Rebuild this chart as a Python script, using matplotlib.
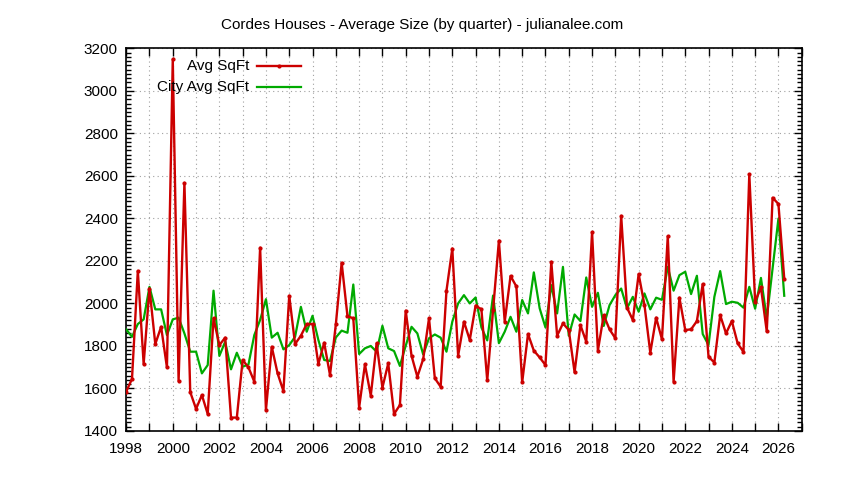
import numpy as np
import matplotlib
matplotlib.use("Agg")
import matplotlib.pyplot as plt
from matplotlib.lines import Line2D
from matplotlib.ticker import MultipleLocator, FixedLocator, FuncFormatter

plt.rcParams['font.family'] = ['Liberation Sans', 'DejaVu Sans']

title = "Cordes Houses - Average Size (by quarter) - julianalee.com"
series_names = ["Avg SqFt", "City Avg SqFt"]
start_year = 1998  # first quarter plotted at 1998.0, one point per quarter

avg_sqft = [
    1585, 1645, 2153, 1715, 2070, 1809, 1890, 1699, 3148, 1635,
    2567, 1583, 1504, 1569, 1480, 1930, 1804, 1839, 1463, 1463,
    1734, 1699, 1632, 2262, 1499, 1796, 1671, 1588, 2036, 1809,
    1848, 1903, 1903, 1715, 1815, 1663, 1901, 2191, 1940, 1930,
    1510, 1713, 1566, 1812, 1604, 1718, 1480, 1522, 1966, 1754,
    1655, 1738, 1930, 1648, 1608, 2060, 2258, 1754, 1914, 1828,
    1990, 1972, 1638, 1968, 2295, 1914, 2129, 2080, 1629, 1856,
    1778, 1746, 1710, 2196, 1848, 1906, 1875, 1676, 1898, 1820,
    2334, 1778, 1945, 1878, 1836, 2412, 1980, 1922, 2138, 1992,
    1768, 1933, 1831, 2316, 1632, 2027, 1875, 1878, 1917, 2091,
    1749, 1722, 1945, 1859, 1917, 1812, 1772, 2608, 2008, 2075,
    1868, 2497, 2468, 2117,
]

city_avg_sqft = [
    1878, 1843, 1903, 1925, 2078, 1972, 1972, 1851, 1925, 1933,
    1859, 1773, 1773, 1671, 1710, 2060, 1753, 1820, 1690, 1768,
    1702, 1713, 1851, 1922, 2020, 1839, 1862, 1784, 1804, 1843,
    1984, 1867, 1942, 1828, 1734, 1729, 1840, 1872, 1862, 2089,
    1762, 1789, 1800, 1773, 1895, 1789, 1776, 1706, 1801, 1890,
    1859, 1760, 1836, 1854, 1839, 1773, 1914, 2000, 2039, 2000,
    2028, 1887, 1826, 2037, 1813, 1867, 1937, 1867, 2016, 1953,
    2146, 1977, 1887, 2086, 1953, 2172, 1848, 1948, 1917, 2122,
    1984, 2050, 1894, 1992, 2039, 2070, 1977, 2031, 1961, 2047,
    1972, 2027, 2017, 2172, 2060, 2133, 2149, 2044, 2130, 1856,
    1804, 2031, 2152, 1997, 2008, 2003, 1980, 2078, 1975, 2120,
    1930, 2165, 2399, 2036,
]

x_ticks = list(range(1998, 2028))
x_labels_years = list(range(1998, 2027, 2))

red = '#cc0000'
green = '#00aa00'

x = start_year + np.arange(len(avg_sqft)) / 4.0

fig = plt.figure(figsize=(8.44, 4.8), dpi=100)
ax = fig.add_axes([0.1495, 0.1021, 0.8004, 0.7973])

ax.plot(x, city_avg_sqft, color=green, lw=1.6, zorder=3)
ax.plot(x, avg_sqft, color=red, lw=1.7, marker='o', ms=2.0, mec=red, mfc=red, zorder=4)

ax.set_xlim(1998, 2027)
ax.set_ylim(1400, 3200)
ax.xaxis.set_major_locator(FixedLocator(x_ticks))
ax.xaxis.set_major_formatter(FuncFormatter(lambda v, p: str(int(round(v))) if int(round(v)) in x_labels_years else ''))
ax.yaxis.set_major_locator(MultipleLocator(200))
ax.yaxis.set_minor_locator(MultipleLocator(20))

ax.grid(True, which='major', color='#a0a0a0', linestyle=(0, (1, 3)), lw=0.8)
ax.tick_params(axis='both', which='major', direction='in', length=6, width=1,
               top=True, right=True, labelsize=11, colors='black')
ax.tick_params(axis='y', which='minor', direction='in', length=3.5, width=1, right=True, left=True)
ax.tick_params(axis='x', which='major', pad=8)
ax.tick_params(axis='y', which='major', pad=6)
for s in ax.spines.values():
    s.set_linewidth(1.2)
    s.set_color('black')

fig.suptitle(title, y=0.962, fontsize=11)

# legend (gnuplot style: right-aligned text, sample to the right)
fs = 11
ax.text(0.1822, 0.9545, series_names[0], transform=ax.transAxes, ha='right', va='center', fontsize=fs, zorder=5)
ax.text(0.1822, 0.8997, series_names[1], transform=ax.transAxes, ha='right', va='center', fontsize=fs, zorder=5)
ax.add_line(Line2D([0.1936, 0.2588], [0.9545, 0.9545], transform=ax.transAxes, color=red, lw=1.7, zorder=5))
ax.add_line(Line2D([0.2262], [0.9545], transform=ax.transAxes, color=red, marker='o', ms=2.0, lw=0, zorder=5))
ax.add_line(Line2D([0.1936, 0.2588], [0.8997, 0.8997], transform=ax.transAxes, color=green, lw=1.6, zorder=5))

fig.savefig('out.png', dpi=100)
